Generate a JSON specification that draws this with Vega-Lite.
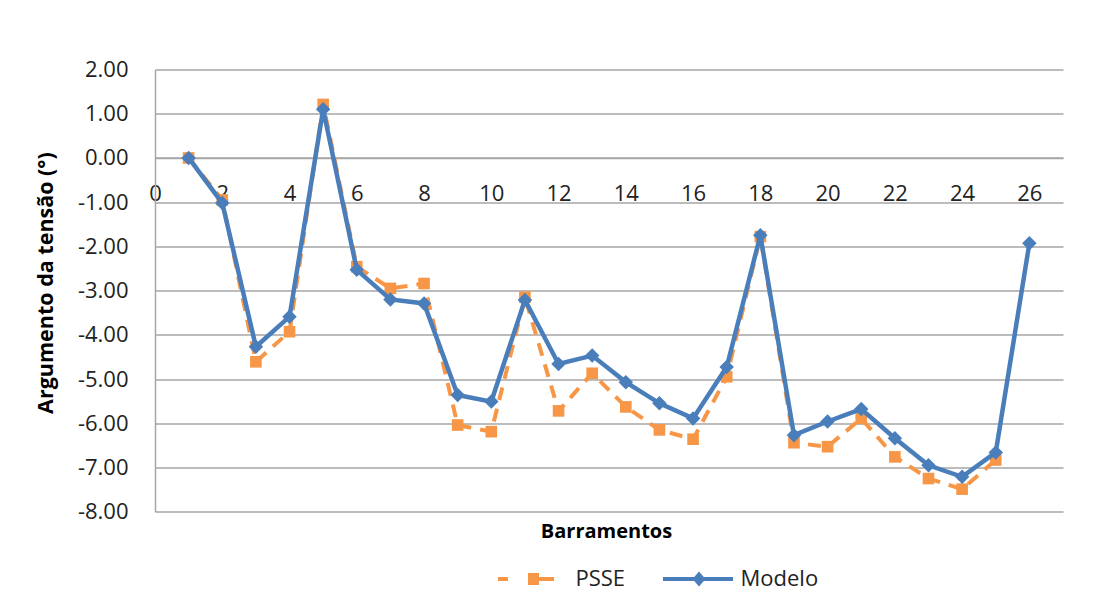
{
  "$schema": "https://vega.github.io/schema/vega-lite/v6.json",
  "width": 908,
  "height": 442.2,
  "autosize": {"type": "none"},
  "padding": {"left": 155, "top": 69.5, "right": 33, "bottom": 100.3},
  "background": "white",
  "config": {
    "view": {"stroke": null},
    "font": "Open Sans"
  },
  "data": {
    "values": [
      {"bus": 1, "serie": "PSSE", "angle": 0.0},
      {"bus": 2, "serie": "PSSE", "angle": -0.95},
      {"bus": 3, "serie": "PSSE", "angle": -4.61},
      {"bus": 4, "serie": "PSSE", "angle": -3.93},
      {"bus": 5, "serie": "PSSE", "angle": 1.21},
      {"bus": 6, "serie": "PSSE", "angle": -2.46},
      {"bus": 7, "serie": "PSSE", "angle": -2.95},
      {"bus": 8, "serie": "PSSE", "angle": -2.84},
      {"bus": 9, "serie": "PSSE", "angle": -6.04},
      {"bus": 10, "serie": "PSSE", "angle": -6.19},
      {"bus": 11, "serie": "PSSE", "angle": -3.15},
      {"bus": 12, "serie": "PSSE", "angle": -5.72},
      {"bus": 13, "serie": "PSSE", "angle": -4.87},
      {"bus": 14, "serie": "PSSE", "angle": -5.63},
      {"bus": 15, "serie": "PSSE", "angle": -6.15},
      {"bus": 16, "serie": "PSSE", "angle": -6.36},
      {"bus": 17, "serie": "PSSE", "angle": -4.95},
      {"bus": 18, "serie": "PSSE", "angle": -1.78},
      {"bus": 19, "serie": "PSSE", "angle": -6.44},
      {"bus": 20, "serie": "PSSE", "angle": -6.53},
      {"bus": 21, "serie": "PSSE", "angle": -5.89},
      {"bus": 22, "serie": "PSSE", "angle": -6.76},
      {"bus": 23, "serie": "PSSE", "angle": -7.25},
      {"bus": 24, "serie": "PSSE", "angle": -7.49},
      {"bus": 25, "serie": "PSSE", "angle": -6.83},
      {"bus": 1, "serie": "Modelo", "angle": 0.0},
      {"bus": 2, "serie": "Modelo", "angle": -1.02},
      {"bus": 3, "serie": "Modelo", "angle": -4.27},
      {"bus": 4, "serie": "Modelo", "angle": -3.59},
      {"bus": 5, "serie": "Modelo", "angle": 1.10},
      {"bus": 6, "serie": "Modelo", "angle": -2.53},
      {"bus": 7, "serie": "Modelo", "angle": -3.20},
      {"bus": 8, "serie": "Modelo", "angle": -3.29},
      {"bus": 9, "serie": "Modelo", "angle": -5.36},
      {"bus": 10, "serie": "Modelo", "angle": -5.51},
      {"bus": 11, "serie": "Modelo", "angle": -3.21},
      {"bus": 12, "serie": "Modelo", "angle": -4.66},
      {"bus": 13, "serie": "Modelo", "angle": -4.47},
      {"bus": 14, "serie": "Modelo", "angle": -5.07},
      {"bus": 15, "serie": "Modelo", "angle": -5.55},
      {"bus": 16, "serie": "Modelo", "angle": -5.89},
      {"bus": 17, "serie": "Modelo", "angle": -4.73},
      {"bus": 18, "serie": "Modelo", "angle": -1.75},
      {"bus": 19, "serie": "Modelo", "angle": -6.27},
      {"bus": 20, "serie": "Modelo", "angle": -5.96},
      {"bus": 21, "serie": "Modelo", "angle": -5.68},
      {"bus": 22, "serie": "Modelo", "angle": -6.34},
      {"bus": 23, "serie": "Modelo", "angle": -6.95},
      {"bus": 24, "serie": "Modelo", "angle": -7.21},
      {"bus": 25, "serie": "Modelo", "angle": -6.66},
      {"bus": 26, "serie": "Modelo", "angle": -1.93}
    ]
  },
  "encoding": {
    "x": {
      "field": "bus",
      "type": "quantitative",
      "scale": {"domain": [0, 27], "nice": false, "zero": false},
      "axis": {
        "orient": "bottom",
        "offset": -353.8,
        "values": [0, 2, 4, 6, 8, 10, 12, 14, 16, 18, 20, 22, 24, 26],
        "grid": false,
        "ticks": false,
        "tickSize": 0,
        "domain": true,
        "domainColor": "#a6a6a6",
        "domainWidth": 1.5,
        "labelFont": "Open Sans",
        "labelFontSize": 22,
        "labelColor": "#222222",
        "labelBaseline": "alphabetic",
        "labelPadding": 43,
        "labelFlush": false,
        "labelOverlap": false,
        "title": "Barramentos",
        "titleFont": "Open Sans",
        "titleFontSize": 20,
        "titleFontWeight": "bold",
        "titleColor": "#000000",
        "titleX": 451,
        "titleY": 374,
        "titleBaseline": "middle",
        "titleAlign": "center"
      }
    },
    "y": {
      "field": "angle",
      "type": "quantitative",
      "scale": {"domain": [-8, 2], "nice": false, "zero": false},
      "axis": {
        "values": [-8, -7, -6, -5, -4, -3, -2, -1, 0, 1, 2],
        "labelExpr": "replace(format(datum.value, '.2f'), '\u2212', '-')",
        "grid": true,
        "gridColor": "#a6a6a6",
        "gridWidth": 1.5,
        "ticks": false,
        "tickSize": 0,
        "domain": true,
        "domainColor": "#a6a6a6",
        "domainWidth": 1.5,
        "labelFont": "Open Sans",
        "labelFontSize": 22,
        "labelColor": "#222222",
        "labelPadding": 27,
        "labelBaseline": "middle",
        "labelOverlap": false,
        "title": "Argumento da tensão (°)",
        "titleFont": "Open Sans",
        "titleFontSize": 21.5,
        "titleFontWeight": "bold",
        "titleColor": "#000000",
        "titleAngle": -90,
        "titleX": -109,
        "titleY": 213,
        "titleBaseline": "middle",
        "titleAlign": "center"
      }
    },
    "color": {
      "field": "serie",
      "type": "nominal",
      "scale": {"domain": ["PSSE", "Modelo"], "range": ["#F79646", "#4A7EBB"]},
      "legend": {
        "title": null,
        "orient": "none",
        "legendX": 343,
        "legendY": 474.5,
        "direction": "horizontal",
        "padding": 0,
        "columnPadding": 37,
        "labelFont": "Open Sans",
        "labelFontSize": 22,
        "labelColor": "#222222",
        "labelOffset": 7.5,
        "symbolSize": 4900,
        "symbolStrokeWidth": 0,
        "symbolOpacity": 1,
        "encode": {
          "symbols": {
            "update": {
              "shape": {"signal": "datum.value === 'PSSE' ? 'M-1,-0.06H-0.714V0.06H-1Z M-0.143,-0.171H0.171V0.171H-0.143Z M0.171,-0.06H0.6V0.06H0.171Z' : 'M-1,-0.06H1V0.06H-1Z M0.029,-0.214L0.215,0L0.029,0.214L-0.157,0Z'"},
              "fill": {"signal": "datum.value === 'PSSE' ? '#F79646' : '#4A7EBB'"},
              "fillOpacity": {"value": 1},
              "opacity": {"value": 1},
              "stroke": {"value": "transparent"},
              "strokeWidth": {"value": 0}
            }
          }
        }
      }
    }
  },
  "layer": [
    {
      "transform": [{"filter": "datum.serie === 'PSSE'"}],
      "mark": {"type": "line", "strokeWidth": 4, "strokeDash": [13, 9]}
    },
    {
      "transform": [{"filter": "datum.serie === 'PSSE'"}],
      "mark": {"type": "point", "shape": "square", "filled": true, "size": 135, "opacity": 1, "strokeWidth": 0}
    },
    {
      "transform": [{"filter": "datum.serie === 'Modelo'"}],
      "mark": {"type": "line", "strokeWidth": 4.5}
    },
    {
      "transform": [{"filter": "datum.serie === 'Modelo'"}],
      "mark": {"type": "point", "shape": "diamond", "filled": true, "size": 210, "opacity": 1, "strokeWidth": 0}
    }
  ]
}
